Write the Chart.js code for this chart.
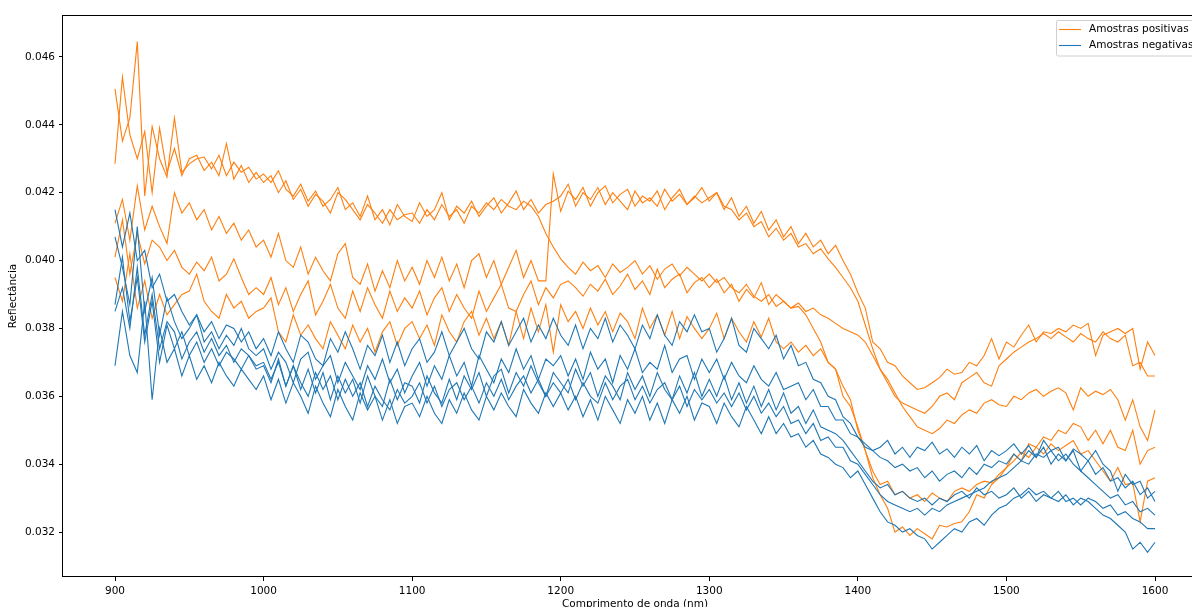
<!DOCTYPE html>
<html><head><meta charset="utf-8">
<script src="https://cdn.jsdelivr.net/npm/chart.js@4.4.1/dist/chart.umd.min.js"></script>
<style>
html,body{margin:0;padding:0;overflow:hidden;background:#fff;width:1192px;height:607px;}
#wrap{position:absolute;left:0;top:0;width:1240px;height:611px;}
canvas{display:block;}
</style></head><body>
<div id="wrap"><canvas id="c" width="1240" height="611" style="width:1240px;height:611px"></canvas></div>
<script>
// Wavelengths (nm)
const wavelengths = [
 900,905,910,915,920,925,930,935,940,945,950,955,960,965,970,975,980,985,990,995,
 1000,1005,1010,1015,1020,1025,1030,1035,1040,1045,1050,1055,1060,1065,1070,1075,1080,1085,1090,1095,
 1100,1105,1110,1115,1120,1125,1130,1135,1140,1145,1150,1155,1160,1165,1170,1175,1180,1185,1190,1195,
 1200,1205,1210,1215,1220,1225,1230,1235,1240,1245,1250,1255,1260,1265,1270,1275,1280,1285,1290,1295,
 1300,1305,1310,1315,1320,1325,1330,1335,1340,1345,1350,1355,1360,1365,1370,1375,1380,1385,1390,1395,
 1400,1405,1410,1415,1420,1425,1430,1435,1440,1445,1450,1455,1460,1465,1470,1475,1480,1485,1490,1495,
 1500,1505,1510,1515,1520,1525,1530,1535,1540,1545,1550,1555,1560,1565,1570,1575,1580,1585,1590,1595,
 1600];
const xTicks = [900,1000,1100,1200,1300,1400,1500,1600];
const yTicks = [0.032,0.034,0.036,0.038,0.040,0.042,0.044,0.046];
const legendLabels = ['Amostras positivas','Amostras negativas'];
const xTitle = 'Comprimento de onda (nm)';
const yTitle = 'Reflectância';

// Positive samples (orange)
const pos1 = [
 0.04506,0.04352,0.04420,0.04645,0.04190,0.04395,0.04300,0.04246,0.04420,0.04260,0.04285,0.04300,0.04305,0.04270,0.04310,0.04250,0.04290,0.04260,0.04275,0.04240,
 0.04255,0.04230,0.04265,0.04210,0.04190,0.04225,0.04175,0.04205,0.04160,0.04180,0.04215,0.04150,0.04170,0.04130,0.04190,0.04120,0.04150,0.04105,0.04165,0.04130,
 0.04115,0.04170,0.04130,0.04150,0.04200,0.04120,0.04160,0.04140,0.04175,0.04130,0.04160,0.04185,0.04140,0.04170,0.04205,0.04150,0.04180,0.04140,0.04165,0.04175,
 0.04190,0.04225,0.04160,0.04200,0.04180,0.04215,0.04165,0.04200,0.04175,0.04150,0.04205,0.04170,0.04185,0.04160,0.04210,0.04175,0.04195,0.04165,0.04185,0.04215,
 0.04175,0.04200,0.04150,0.04185,0.04130,0.04160,0.04110,0.04145,0.04090,0.04120,0.04070,0.04100,0.04050,0.04080,0.04040,0.04060,0.04020,0.04045,0.04000,0.03960,
 0.03905,0.03860,0.03760,0.03740,0.03700,0.03690,0.03660,0.03640,0.03620,0.03625,0.03640,0.03655,0.03680,0.03665,0.03670,0.03700,0.03690,0.03720,0.03770,0.03710,
 0.03760,0.03745,0.03780,0.03810,0.03760,0.03790,0.03785,0.03800,0.03790,0.03810,0.03800,0.03815,0.03720,0.03780,0.03790,0.03800,0.03785,0.03800,0.03680,0.03760,
 0.03720];
const pos2 = [
 0.04110,0.04180,0.04060,0.04220,0.04090,0.04160,0.04100,0.04050,0.04200,0.04140,0.04170,0.04120,0.04150,0.04090,0.04130,0.04080,0.04110,0.04060,0.04090,0.04040,
 0.04060,0.04010,0.04080,0.04000,0.03980,0.04040,0.03960,0.04010,0.03970,0.03940,0.04020,0.04050,0.03950,0.03930,0.03990,0.03910,0.03970,0.03920,0.04000,0.03940,
 0.03980,0.03930,0.04000,0.03950,0.04010,0.03940,0.03990,0.03920,0.04000,0.04020,0.03950,0.04000,0.03930,0.03980,0.04030,0.03950,0.04000,0.03940,0.03940,0.04255,
 0.04145,0.04205,0.04180,0.04215,0.04160,0.04200,0.04220,0.04170,0.04195,0.04210,0.04160,0.04190,0.04175,0.04205,0.04150,0.04185,0.04210,0.04165,0.04190,0.04170,
 0.04185,0.04200,0.04160,0.04150,0.04120,0.04140,0.04100,0.04115,0.04070,0.04095,0.04060,0.04080,0.04040,0.04050,0.04020,0.04035,0.04005,0.03980,0.03950,0.03920,
 0.03880,0.03810,0.03740,0.03680,0.03640,0.03600,0.03580,0.03570,0.03560,0.03550,0.03570,0.03600,0.03610,0.03590,0.03640,0.03655,0.03670,0.03640,0.03630,0.03690,
 0.03710,0.03730,0.03745,0.03760,0.03770,0.03785,0.03770,0.03790,0.03775,0.03760,0.03785,0.03770,0.03760,0.03790,0.03770,0.03760,0.03780,0.03690,0.03700,0.03660,
 0.03660];
const pos3 = [
 0.04285,0.04540,0.04370,0.04300,0.04380,0.04200,0.04390,0.04260,0.04330,0.04250,0.04300,0.04310,0.04265,0.04290,0.04250,0.04345,0.04240,0.04280,0.04230,0.04260,
 0.04230,0.04250,0.04200,0.04235,0.04180,0.04210,0.04160,0.04195,0.04175,0.04140,0.04200,0.04180,0.04150,0.04120,0.04165,0.04140,0.04110,0.04150,0.04120,0.04135,
 0.04140,0.04110,0.04150,0.04120,0.04165,0.04130,0.04150,0.04110,0.04160,0.04140,0.04170,0.04150,0.04180,0.04160,0.04150,0.04175,0.04160,0.04130,0.04080,0.04040,
 0.04005,0.03980,0.03960,0.03995,0.03970,0.03985,0.03950,0.03990,0.03965,0.03980,0.04000,0.03960,0.03985,0.03945,0.03975,0.03990,0.03955,0.03980,0.03960,0.03940,
 0.03960,0.03935,0.03950,0.03920,0.03905,0.03930,0.03895,0.03880,0.03900,0.03865,0.03880,0.03860,0.03875,0.03850,0.03860,0.03840,0.03830,0.03815,0.03800,0.03790,
 0.03780,0.03760,0.03720,0.03680,0.03650,0.03610,0.03570,0.03540,0.03510,0.03500,0.03490,0.03505,0.03530,0.03520,0.03545,0.03560,0.03550,0.03580,0.03590,0.03575,
 0.03570,0.03600,0.03590,0.03610,0.03620,0.03600,0.03615,0.03625,0.03610,0.03560,0.03625,0.03600,0.03615,0.03605,0.03620,0.03590,0.03530,0.03590,0.03510,0.03470,
 0.03560];
const pos4 = [
 0.04010,0.04120,0.03960,0.04080,0.03990,0.04060,0.04040,0.04000,0.04030,0.03980,0.03960,0.03995,0.03970,0.04010,0.03940,0.03960,0.04005,0.03950,0.03900,0.03920,
 0.03900,0.03950,0.03870,0.03920,0.03850,0.03900,0.03940,0.03840,0.03880,0.03930,0.03860,0.03830,0.03910,0.03850,0.03920,0.03870,0.03830,0.03910,0.03850,0.03890,
 0.03860,0.03910,0.03840,0.03890,0.03920,0.03850,0.03900,0.03860,0.03830,0.03910,0.03850,0.03890,0.03930,0.03860,0.03850,0.03900,0.03940,0.03870,0.03920,0.03890,
 0.03930,0.03940,0.03920,0.03895,0.03930,0.03910,0.03945,0.03900,0.03925,0.03960,0.03915,0.03940,0.03900,0.03975,0.03920,0.03945,0.03960,0.03905,0.03935,0.03950,
 0.03920,0.03945,0.03905,0.03930,0.03880,0.03915,0.03890,0.03935,0.03870,0.03900,0.03880,0.03860,0.03865,0.03840,0.03800,0.03760,0.03700,0.03680,0.03600,0.03570,
 0.03510,0.03440,0.03360,0.03310,0.03270,0.03200,0.03215,0.03190,0.03210,0.03195,0.03180,0.03220,0.03215,0.03225,0.03230,0.03260,0.03310,0.03300,0.03340,0.03360,
 0.03390,0.03430,0.03410,0.03460,0.03450,0.03480,0.03470,0.03500,0.03490,0.03520,0.03510,0.03470,0.03500,0.03460,0.03500,0.03450,0.03440,0.03500,0.03400,0.03440,
 0.03450];
const pos5 = [
 0.03950,0.03880,0.04020,0.03860,0.03940,0.03830,0.03900,0.03840,0.03870,0.03900,0.03910,0.03960,0.03880,0.03850,0.03830,0.03900,0.03860,0.03880,0.03830,0.03850,
 0.03860,0.03890,0.03790,0.03760,0.03840,0.03780,0.03810,0.03770,0.03740,0.03820,0.03780,0.03740,0.03810,0.03760,0.03800,0.03730,0.03790,0.03820,0.03750,0.03800,
 0.03820,0.03770,0.03810,0.03750,0.03840,0.03790,0.03760,0.03820,0.03850,0.03780,0.03830,0.03770,0.03820,0.03750,0.03850,0.03770,0.03860,0.03790,0.03870,0.03730,
 0.03870,0.03820,0.03850,0.03800,0.03860,0.03810,0.03850,0.03790,0.03845,0.03820,0.03770,0.03860,0.03800,0.03840,0.03780,0.03850,0.03770,0.03835,0.03800,0.03770,
 0.03800,0.03845,0.03770,0.03830,0.03790,0.03760,0.03820,0.03775,0.03830,0.03760,0.03740,0.03760,0.03730,0.03750,0.03720,0.03740,0.03700,0.03680,0.03630,0.03590,
 0.03500,0.03440,0.03380,0.03340,0.03350,0.03310,0.03320,0.03300,0.03310,0.03290,0.03315,0.03300,0.03290,0.03320,0.03330,0.03320,0.03340,0.03350,0.03345,0.03370,
 0.03390,0.03410,0.03435,0.03420,0.03450,0.03430,0.03460,0.03440,0.03455,0.03470,0.03430,0.03440,0.03410,0.03380,0.03350,0.03390,0.03340,0.03345,0.03230,0.03350,
 0.03360];

// Negative samples (blue)
const neg1 = [
 0.04150,0.04040,0.04140,0.04000,0.04030,0.03920,0.03960,0.03880,0.03900,0.03850,0.03810,0.03840,0.03790,0.03820,0.03770,0.03810,0.03800,0.03760,0.03790,0.03740,
 0.03770,0.03720,0.03790,0.03740,0.03700,0.03780,0.03760,0.03710,0.03690,0.03770,0.03730,0.03790,0.03740,0.03680,0.03750,0.03720,0.03780,0.03700,0.03760,0.03690,
 0.03740,0.03770,0.03700,0.03730,0.03790,0.03720,0.03760,0.03800,0.03740,0.03710,0.03790,0.03760,0.03820,0.03750,0.03790,0.03830,0.03760,0.03810,0.03770,0.03830,
 0.03780,0.03750,0.03810,0.03740,0.03800,0.03770,0.03830,0.03760,0.03810,0.03780,0.03740,0.03810,0.03770,0.03840,0.03780,0.03750,0.03820,0.03790,0.03840,0.03790,
 0.03800,0.03730,0.03770,0.03830,0.03750,0.03730,0.03800,0.03770,0.03740,0.03780,0.03710,0.03750,0.03690,0.03700,0.03650,0.03640,0.03600,0.03590,0.03540,0.03520,
 0.03480,0.03460,0.03440,0.03450,0.03470,0.03430,0.03450,0.03420,0.03450,0.03440,0.03465,0.03430,0.03445,0.03420,0.03450,0.03430,0.03455,0.03410,0.03440,0.03425,
 0.03440,0.03460,0.03430,0.03455,0.03420,0.03470,0.03440,0.03450,0.03410,0.03445,0.03430,0.03410,0.03440,0.03400,0.03380,0.03320,0.03370,0.03340,0.03350,0.03300,
 0.03320];
const neg2 = [
 0.04070,0.03980,0.03870,0.04100,0.03850,0.03950,0.03780,0.03890,0.03820,0.03770,0.03800,0.03840,0.03760,0.03790,0.03740,0.03780,0.03750,0.03800,0.03740,0.03720,
 0.03740,0.03680,0.03730,0.03700,0.03640,0.03710,0.03730,0.03650,0.03690,0.03720,0.03640,0.03700,0.03660,0.03620,0.03690,0.03650,0.03710,0.03640,0.03680,0.03610,
 0.03660,0.03700,0.03630,0.03690,0.03650,0.03720,0.03660,0.03700,0.03630,0.03720,0.03680,0.03640,0.03710,0.03670,0.03740,0.03680,0.03720,0.03650,0.03710,0.03690,
 0.03720,0.03660,0.03710,0.03650,0.03730,0.03680,0.03710,0.03640,0.03720,0.03680,0.03740,0.03670,0.03700,0.03680,0.03750,0.03670,0.03710,0.03720,0.03650,0.03710,
 0.03670,0.03710,0.03650,0.03700,0.03660,0.03640,0.03690,0.03650,0.03630,0.03670,0.03620,0.03630,0.03640,0.03590,0.03620,0.03570,0.03570,0.03530,0.03530,0.03490,
 0.03480,0.03450,0.03440,0.03420,0.03410,0.03390,0.03400,0.03380,0.03390,0.03360,0.03380,0.03350,0.03370,0.03380,0.03360,0.03390,0.03370,0.03400,0.03390,0.03410,
 0.03400,0.03430,0.03410,0.03440,0.03420,0.03450,0.03400,0.03430,0.03410,0.03440,0.03380,0.03410,0.03370,0.03390,0.03350,0.03360,0.03330,0.03350,0.03310,0.03330,
 0.03290];
const neg3 = [
 0.03870,0.04010,0.03820,0.03950,0.03760,0.03880,0.03700,0.03810,0.03740,0.03790,0.03720,0.03760,0.03700,0.03740,0.03690,0.03730,0.03710,0.03680,0.03720,0.03690,
 0.03700,0.03650,0.03700,0.03630,0.03690,0.03620,0.03680,0.03610,0.03670,0.03590,0.03660,0.03610,0.03650,0.03580,0.03660,0.03600,0.03570,0.03650,0.03590,0.03640,
 0.03630,0.03580,0.03660,0.03610,0.03580,0.03650,0.03590,0.03660,0.03620,0.03670,0.03600,0.03660,0.03680,0.03610,0.03670,0.03630,0.03690,0.03640,0.03600,0.03670,
 0.03640,0.03610,0.03680,0.03630,0.03670,0.03600,0.03660,0.03630,0.03590,0.03670,0.03620,0.03660,0.03600,0.03670,0.03620,0.03590,0.03660,0.03610,0.03670,0.03600,
 0.03650,0.03600,0.03660,0.03590,0.03640,0.03580,0.03630,0.03570,0.03620,0.03560,0.03610,0.03550,0.03570,0.03520,0.03560,0.03510,0.03500,0.03490,0.03470,0.03440,
 0.03410,0.03380,0.03350,0.03330,0.03340,0.03310,0.03320,0.03300,0.03290,0.03300,0.03280,0.03300,0.03290,0.03310,0.03320,0.03300,0.03330,0.03310,0.03320,0.03300,
 0.03310,0.03330,0.03300,0.03320,0.03290,0.03310,0.03300,0.03320,0.03290,0.03300,0.03280,0.03300,0.03290,0.03270,0.03280,0.03250,0.03260,0.03240,0.03230,0.03210,
 0.03210];
const neg4 = [
 0.03690,0.03850,0.03720,0.03670,0.03880,0.03590,0.03800,0.03700,0.03740,0.03660,0.03720,0.03650,0.03690,0.03640,0.03700,0.03660,0.03630,0.03680,0.03650,0.03620,
 0.03660,0.03590,0.03650,0.03580,0.03640,0.03600,0.03550,0.03630,0.03580,0.03540,0.03620,0.03570,0.03530,0.03610,0.03560,0.03600,0.03530,0.03590,0.03520,0.03570,
 0.03580,0.03540,0.03600,0.03550,0.03520,0.03590,0.03550,0.03610,0.03560,0.03530,0.03600,0.03560,0.03610,0.03570,0.03540,0.03620,0.03580,0.03550,0.03610,0.03570,
 0.03610,0.03560,0.03600,0.03540,0.03590,0.03530,0.03600,0.03560,0.03520,0.03590,0.03550,0.03600,0.03530,0.03580,0.03520,0.03590,0.03550,0.03600,0.03530,0.03580,
 0.03570,0.03520,0.03580,0.03540,0.03510,0.03570,0.03530,0.03490,0.03540,0.03490,0.03520,0.03480,0.03490,0.03450,0.03470,0.03430,0.03420,0.03400,0.03390,0.03360,
 0.03380,0.03340,0.03300,0.03260,0.03230,0.03220,0.03200,0.03210,0.03190,0.03180,0.03150,0.03170,0.03190,0.03210,0.03200,0.03230,0.03240,0.03220,0.03250,0.03270,
 0.03280,0.03300,0.03310,0.03330,0.03310,0.03320,0.03300,0.03290,0.03310,0.03280,0.03300,0.03290,0.03270,0.03250,0.03240,0.03220,0.03200,0.03150,0.03170,0.03140,
 0.03170];
const neg5 = [
 0.03850,0.03920,0.03800,0.03980,0.03780,0.03900,0.03740,0.03820,0.03790,0.03710,0.03760,0.03790,0.03730,0.03770,0.03720,0.03750,0.03700,0.03740,0.03720,0.03680,
 0.03690,0.03640,0.03710,0.03630,0.03690,0.03640,0.03600,0.03670,0.03620,0.03660,0.03590,0.03650,0.03600,0.03640,0.03570,0.03630,0.03590,0.03560,0.03620,0.03580,
 0.03600,0.03640,0.03580,0.03630,0.03570,0.03620,0.03640,0.03590,0.03630,0.03580,0.03640,0.03600,0.03650,0.03590,0.03630,0.03660,0.03610,0.03650,0.03600,0.03640,
 0.03610,0.03650,0.03590,0.03640,0.03600,0.03580,0.03640,0.03590,0.03630,0.03650,0.03590,0.03630,0.03580,0.03620,0.03640,0.03590,0.03630,0.03570,0.03620,0.03590,
 0.03620,0.03580,0.03610,0.03570,0.03610,0.03560,0.03600,0.03550,0.03580,0.03540,0.03570,0.03520,0.03530,0.03490,0.03520,0.03470,0.03480,0.03450,0.03450,0.03410,
 0.03400,0.03370,0.03340,0.03310,0.03290,0.03280,0.03270,0.03260,0.03270,0.03250,0.03270,0.03260,0.03280,0.03290,0.03300,0.03310,0.03320,0.03330,0.03350,0.03360,
 0.03370,0.03390,0.03410,0.03400,0.03430,0.03420,0.03440,0.03410,0.03430,0.03400,0.03380,0.03360,0.03340,0.03320,0.03300,0.03310,0.03280,0.03290,0.03260,0.03270,
 0.03250];

const positiveSeries = [pos1, pos2, pos3, pos4, pos5];
const negativeSeries = [neg1, neg2, neg3, neg4, neg5];
const ORANGE = '#ff7f0e';
const BLUE = '#1f77b4';
const FONT = 'DejaVu Sans';

function toPoints(arr) { return arr.map((v, i) => ({ x: wavelengths[i], y: v })); }

const datasets = [];
negativeSeries.forEach((s, i) => datasets.push({
  label: i === 0 ? legendLabels[1] : '', data: toPoints(s), borderColor: BLUE,
  borderWidth: 1.1, pointRadius: 0, fill: false, tension: 0
}));
positiveSeries.forEach((s, i) => datasets.push({
  label: i === 0 ? legendLabels[0] : '', data: toPoints(s), borderColor: ORANGE,
  borderWidth: 1.1, pointRadius: 0, fill: false, tension: 0
}));

const framePlugin = {
  id: 'frameAndLegend',
  afterDraw(chart) {
    const { ctx, chartArea: a } = chart;
    ctx.save();
    ctx.strokeStyle = '#000';
    ctx.lineWidth = 1;
    ctx.strokeRect(Math.round(a.left) - 0.5, Math.round(a.top) + 0.5,
                   Math.round(a.right - a.left) + 1, Math.round(a.bottom - a.top) - 1);
    // legend box (matplotlib style, upper right)
    const bx = 1056, by = 20, bw = 148, bh = 36, r = 2;
    ctx.beginPath();
    ctx.moveTo(bx + r, by + 0.5);
    ctx.lineTo(bx + bw - r, by + 0.5);
    ctx.quadraticCurveTo(bx + bw, by + 0.5, bx + bw, by + r);
    ctx.lineTo(bx + bw, by + bh - r);
    ctx.quadraticCurveTo(bx + bw, by + bh, bx + bw - r, by + bh);
    ctx.lineTo(bx + r, by + bh);
    ctx.quadraticCurveTo(bx + 0.5, by + bh, bx + 0.5, by + bh - r);
    ctx.lineTo(bx + 0.5, by + r);
    ctx.quadraticCurveTo(bx + 0.5, by + 0.5, bx + r, by + 0.5);
    ctx.closePath();
    ctx.fillStyle = 'rgba(255,255,255,0.8)';
    ctx.fill();
    ctx.strokeStyle = '#d0d0d0';
    ctx.stroke();
    const entries = [[legendLabels[0], ORANGE, 29.5], [legendLabels[1], BLUE, 45.5]];
    ctx.font = '10.5px "' + FONT + '"';
    ctx.textBaseline = 'middle';
    ctx.textAlign = 'left';
    entries.forEach(([txt, col, y]) => {
      ctx.strokeStyle = col; ctx.lineWidth = 1.1;
      ctx.beginPath(); ctx.moveTo(1059, y); ctx.lineTo(1081, y); ctx.stroke();
      ctx.fillStyle = '#000';
      ctx.fillText(txt, 1089, y);
    });
    ctx.restore();
  }
};

const tickFont = { family: FONT, size: 10.5 };

new Chart(document.getElementById('c'), {
  type: 'line',
  data: { datasets },
  plugins: [framePlugin],
  options: {
    responsive: false, animation: false, devicePixelRatio: 1,
    layout: { padding: { left: 0, top: 15, right: 33, bottom: 0 } },
    plugins: { legend: { display: false }, tooltip: { enabled: false } },
    scales: {
      x: {
        type: 'linear', min: 865, max: 1635,
        afterBuildTicks: s => { s.ticks = xTicks.map(v => ({ value: v })); },
        afterFit: s => { s.height = 34; },
        ticks: { font: tickFont, color: '#000', padding: 4, maxRotation: 0, autoSkip: false, callback: v => String(v) },
        grid: { display: true, drawOnChartArea: false, drawTicks: true, tickLength: 4, color: '#000', lineWidth: 1 },
        border: { display: false },
        title: { display: true, text: xTitle, font: tickFont, color: '#000', padding: { top: 0, bottom: 0 } }
      },
      y: {
        type: 'linear', min: 0.030676, max: 0.047235,
        afterBuildTicks: s => { s.ticks = yTicks.map(v => ({ value: v })); },
        afterFit: s => { s.width = 63; },
        ticks: { font: tickFont, color: '#000', padding: 4, autoSkip: false, callback: v => Number(v).toFixed(3) },
        grid: { display: true, drawOnChartArea: false, drawTicks: true, tickLength: 4, color: '#000', lineWidth: 1 },
        border: { display: false },
        title: { display: true, text: yTitle, font: tickFont, color: '#000', padding: { top: 7, bottom: 0 } }
      }
    }
  }
});
</script>
</body></html>
